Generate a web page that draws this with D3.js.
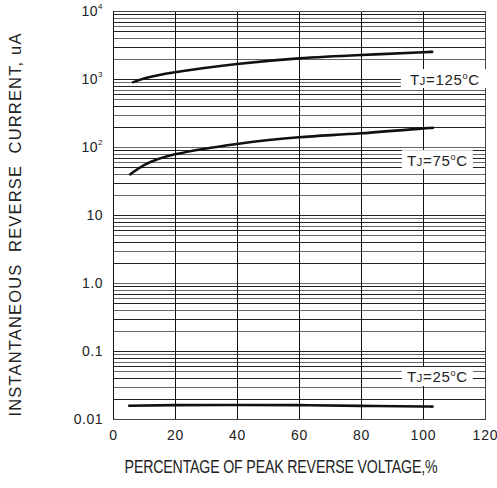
<!DOCTYPE html>
<html>
<head>
<meta charset="utf-8">
<script src="https://cdn.jsdelivr.net/npm/d3@7"></script>
<style>
  body { margin: 0; background: #fff; }
  text { font-family: "Liberation Sans", Arial, sans-serif; fill: #222; }
</style>
</head>
<body>
<div id="chart"></div>
<script>
// data
var xTicks = [0, 20, 40, 60, 80, 100, 120];
var yDecades = [0.01, 0.1, 1, 10, 100, 1000, 10000];
var yTickLabels = [["0.01", ""], ["0.1", ""], ["1.0", ""], ["10", ""], ["10", "2"], ["10", "3"], ["10", "4"]];

var pct125 = [6.2, 10, 20, 40, 60, 80, 100, 102.3];
var cur125 = [883, 1020, 1255, 1660, 2010, 2250, 2470, 2495];

var pct75 = [5.3, 10, 20, 40, 60, 80, 100, 102.8];
var cur75 = [38.7, 54, 78, 111, 139, 159, 188, 190];

var pct25 = [4.9, 20, 40, 60, 80, 100, 102.5];
var cur25 = [0.0157, 0.016, 0.0161, 0.016, 0.0156, 0.0153, 0.0152];

var curveNames = ["125", "75", "25"];
var labelX = [94.8, 94.8, 94.8];
var labelY = [1000, 64, 0.0415];

var WIDTH = 497, HEIGHT = 488;
var M = { left: 113, top: 11, right: 12, bottom: 69 };
var W = WIDTH - M.left - M.right, H = HEIGHT - M.top - M.bottom;

var svg = d3.select("#chart").append("svg")
  .attr("width", WIDTH).attr("height", HEIGHT);

var x = d3.scaleLinear().domain([0, 120]).range([M.left, M.left + W]);
var y = d3.scaleLog().domain([0.01, 10000]).range([M.top + H, M.top]);

// horizontal grid: 1..9 per decade
var hLines = [];
yDecades.forEach(function (d, i) {
  if (i === yDecades.length - 1) { hLines.push(d); return; }
  for (var k = 1; k <= 9; k++) hLines.push(d * k);
});

var grid = svg.append("g").attr("shape-rendering", "crispEdges");
grid.selectAll("line.h").data(hLines).enter().append("line")
  .attr("class", "h")
  .attr("x1", x(0)).attr("x2", x(120))
  .attr("y1", function (d) { return Math.round(y(d)) + 0.5; })
  .attr("y2", function (d) { return Math.round(y(d)) + 0.5; })
  .attr("stroke", function (d, i) { return i % 2 ? "#222" : "#666"; })
  .attr("stroke-width", 1);

grid.selectAll("line.v").data(xTicks.slice(1, -1)).enter().append("line")
  .attr("class", "v")
  .attr("x1", function (d) { return Math.round(x(d)) + 0.5; })
  .attr("x2", function (d) { return Math.round(x(d)) + 0.5; })
  .attr("y1", y(10000)).attr("y2", y(0.01))
  .attr("stroke", "#111").attr("stroke-width", 1);

grid.append("rect")
  .attr("x", x(0) + 0.5).attr("y", y(10000) + 0.5)
  .attr("width", W).attr("height", H)
  .attr("fill", "none").attr("stroke", "#444").attr("stroke-width", 1);
grid.append("line")
  .attr("x1", x(0) + 0.5).attr("x2", x(0) + 0.5)
  .attr("y1", y(10000)).attr("y2", y(0.01))
  .attr("stroke", "#111");

// x tick labels
svg.append("g").selectAll("text").data(xTicks).enter().append("text")
  .attr("x", function (d) { return x(d) + 0.5; })
  .attr("y", y(0.01) + 21)
  .attr("text-anchor", "middle")
  .style("font-size", "14px").style("letter-spacing", "0.8px")
  .text(function (d) { return d; });

// y tick labels
var yl = svg.append("g").selectAll("text").data(yDecades).enter().append("text")
  .attr("x", M.left - 10)
  .attr("y", function (d) { return y(d) + 5; })
  .attr("text-anchor", "end")
  .style("font-size", "14px").style("letter-spacing", "0.5px");
yl.append("tspan").text(function (d, i) { return yTickLabels[i][0]; });
yl.append("tspan")
  .attr("dy", -7)
  .style("font-size", "8px")
  .text(function (d, i) { return yTickLabels[i][1]; });

// curves
var line = d3.line()
  .x(function (d) { return x(d[0]); })
  .y(function (d) { return y(d[1]); })
  .curve(d3.curveNatural);

var series = [d3.zip(pct125, cur125), d3.zip(pct75, cur75), d3.zip(pct25, cur25)];
svg.append("g").selectAll("path").data(series).enter().append("path")
  .attr("d", line)
  .attr("fill", "none")
  .attr("stroke", "#111")
  .attr("stroke-width", 2.6);

// temperature labels with white boxes
var labs = svg.append("g").selectAll("g").data(curveNames).enter().append("g")
  .attr("transform", function (d, i) {
    return "translate(" + x(labelX[i]) + "," + y(labelY[i]) + ")";
  });
labs.append("rect")
  .attr("x", function (d) { return d === "125" ? -6 : -5; })
  .attr("y", -10)
  .attr("width", function (d) { return d === "125" ? 90 : 71; })
  .attr("height", 19)
  .attr("fill", "#fff");
var lt = labs.append("text")
  .attr("x", function (d) { return d === "125" ? 3 : 0; })
  .attr("y", 5.5)
  .style("font-size", "15px").style("letter-spacing", "0.7px");
lt.append("tspan").text("T");
lt.append("tspan").style("font-size", "11px").text("J");
lt.append("tspan").text(function (d) { return "=" + d; });
lt.append("tspan").attr("dy", -6).style("font-size", "9px").text("o");
lt.append("tspan").attr("dy", 6).text("C");

// axis titles
svg.append("text")
  .attr("transform", "translate(21," + (M.top + H / 2 + 10) + ") rotate(-90)")
  .attr("text-anchor", "middle")
  .attr("textLength", 383).attr("lengthAdjust", "spacing")
  .style("font-size", "16.5px")
  .text("INSTANTANEOUS\u00a0\u00a0REVERSE\u00a0\u00a0CURRENT,\u00a0uA");

// condensed look: squeeze horizontally
svg.append("text")
  .attr("transform", "translate(281,473) scale(0.81,1)")
  .attr("text-anchor", "middle")
  .style("font-size", "17.5px")
  .style("letter-spacing", "-0.2px")
  .text("PERCENTAGE OF PEAK REVERSE VOLTAGE,%");
</script>
</body>
</html>
